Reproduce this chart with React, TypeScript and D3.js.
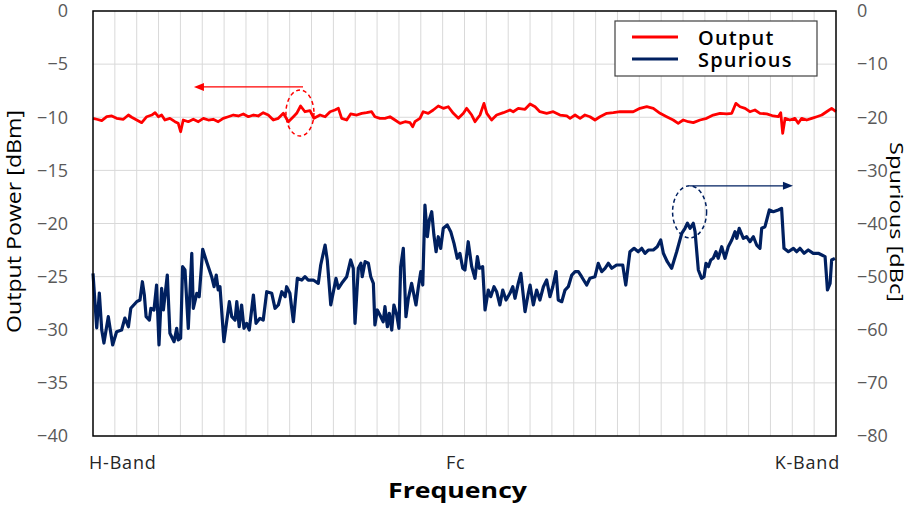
import * as d3 from 'd3';
import React, { useRef, useEffect } from 'react';

// frequency steps across the band (0 = H-Band edge, 340 = K-Band edge)
const outputFreq = [
  0, 1.7, 4.0, 6.3, 8.6, 10.8, 13.9, 16.2, 17.7, 20.0,
  22.3, 24.6, 26.9, 28.4, 29.9, 31.4, 32.9, 35.2, 37.5, 39.0,
  40.1, 41.3, 43.6, 45.9, 48.2, 50.5, 52.8, 55.0, 57.3, 59.6,
  61.9, 64.2, 66.5, 68.8, 71.1, 73.4, 75.6, 77.9, 80.2, 82.5,
  84.8, 87.1, 89.4, 91.7, 93.2, 95.0, 97.0, 99.3, 101.1, 103.9,
  106.2, 108.5, 110.7, 112.3, 113.8, 116.1, 117.9, 120.7, 123.0, 125.2,
  127.5, 129.0, 131.3, 133.6, 135.9, 138.2, 140.5, 142.8, 145.1, 146.3,
  147.3, 149.6, 151.1, 153.4, 155.7, 158.0, 160.3, 162.6, 164.9, 167.2,
  169.5, 171.0, 173.3, 174.8, 177.1, 178.9, 180.2, 182.4, 184.7, 187.8,
  190.8, 192.3, 194.6, 197.7, 200.0, 202.3, 204.5, 207.6, 210.6, 213.7,
  216.8, 218.3, 220.6, 222.9, 225.1, 227.4, 229.7, 232.0, 235.1, 238.1,
  241.2, 244.2, 247.2, 250.3, 253.4, 256.4, 259.5, 262.5, 265.5, 267.8,
  270.1, 272.4, 274.7, 277.8, 280.8, 283.8, 286.9, 290.0, 292.3, 294.2,
  296.1, 298.4, 300.6, 302.9, 305.2, 308.3, 311.3, 313.6, 314.7, 315.6,
  316.7, 318.9, 321.2, 322.7, 324.3, 326.6, 328.9, 331.2, 333.5, 335.7,
  338.0, 340,
];

const outputDbm = [
  -10.10, -10.19, -10.32, -9.95, -9.88, -10.10, -10.19, -9.79, -10.00, -10.26,
  -10.51, -9.95, -9.79, -9.57, -9.95, -9.79, -10.26, -10.10, -10.42, -10.57,
  -11.36, -10.26, -10.42, -10.19, -10.42, -10.10, -10.26, -10.19, -10.42, -10.10,
  -9.95, -9.79, -9.88, -9.69, -9.95, -9.79, -9.88, -9.57, -9.79, -10.26,
  -10.10, -9.63, -10.42, -9.95, -9.63, -8.94, -9.48, -9.38, -10.10, -9.79,
  -9.95, -9.48, -9.32, -9.16, -10.10, -10.26, -9.69, -9.79, -9.63, -9.57,
  -9.48, -9.95, -10.10, -10.10, -9.95, -10.26, -10.57, -10.42, -10.51, -10.89,
  -10.42, -10.10, -9.48, -9.63, -9.32, -8.94, -9.16, -9.01, -9.63, -10.10,
  -9.63, -9.16, -9.79, -10.42, -9.79, -8.69, -9.63, -10.26, -9.79, -9.57,
  -9.32, -9.48, -9.16, -9.25, -8.75, -9.01, -9.48, -9.63, -9.48, -9.79,
  -9.88, -10.10, -9.79, -10.10, -9.79, -9.95, -10.26, -9.95, -9.63, -9.57,
  -9.48, -9.48, -9.48, -9.16, -9.01, -9.16, -9.63, -9.95, -10.26, -10.57,
  -10.26, -10.42, -10.51, -10.26, -10.10, -9.79, -9.63, -9.69, -9.63, -8.69,
  -9.01, -9.16, -9.48, -9.32, -9.63, -9.69, -9.88, -9.95, -9.57, -11.51,
  -10.10, -10.26, -10.10, -10.57, -10.10, -10.26, -10.10, -9.95, -9.79, -9.48,
  -9.16, -9.48,
];

const spuriousFreq = [
  0, 1.7, 2.9, 4.0, 5.0, 7.0, 9.0, 10.8, 13.1, 14.6,
  16.2, 17.3, 20.0, 21.5, 22.6, 23.5, 24.3, 25.8, 26.5, 27.9,
  29.1, 30.2, 31.4, 32.2, 34.0, 35.2, 37.1, 38.3, 39.0, 40.1,
  41.0, 42.1, 43.6, 45.2, 45.9, 47.5, 48.6, 50.2, 52.0, 54.3,
  55.4, 56.4, 57.3, 58.1, 59.9, 62.4, 63.5, 65.0, 65.8, 66.9,
  68.0, 69.1, 70.3, 71.5, 73.4, 74.6, 76.4, 77.9, 79.5, 81.8,
  83.3, 84.8, 86.4, 87.9, 88.6, 90.1, 91.7, 93.5, 95.5, 97.0,
  98.5, 100.8, 103.1, 104.2, 106.2, 107.2, 108.8, 111.2, 112.3, 113.8,
  116.1, 117.9, 119.1, 119.9, 121.4, 122.6, 123.2, 124.5, 126.0, 127.1,
  128.3, 129.0, 130.1, 131.3, 132.8, 133.6, 134.7, 135.6, 136.7, 137.7,
  139.0, 140.0, 140.8, 142.0, 143.2, 144.3, 145.8, 147.8, 148.9, 150.0,
  150.9, 151.9, 153.0, 153.9, 155.0, 156.0, 157.0, 158.0, 159.1, 160.3,
  162.1, 163.7, 165.2, 166.7, 167.9, 169.2, 170.2, 171.7, 173.3, 174.8,
  175.9, 176.8, 178.3, 179.4, 180.9, 182.0, 183.5, 184.7, 186.2, 187.5,
  189.0, 190.8, 192.1, 193.1, 194.6, 195.8, 197.7, 199.2, 200.0, 201.5,
  203.0, 204.5, 206.1, 207.6, 209.1, 210.4, 211.9, 212.9, 214.5, 216.0,
  217.5, 219.1, 220.6, 222.1, 223.6, 225.9, 227.4, 229.7, 231.2, 232.8,
  234.3, 235.8, 237.4, 239.6, 242.4, 243.8, 245.7, 247.6, 249.5, 251.1,
  252.6, 254.1, 256.4, 258.2, 259.8, 261.0, 262.8, 264.8, 267.1, 269.4,
  270.9, 272.0, 273.2, 274.7, 275.5, 277.0, 278.5, 279.6, 280.5, 281.6,
  282.7, 283.8, 285.1, 286.1, 287.7, 289.2, 290.7, 292.3, 293.8, 294.6,
  295.7, 297.6, 299.1, 300.6, 302.2, 303.7, 305.2, 306.0, 307.5, 309.5,
  311.3, 313.6, 315.1, 316.2, 318.2, 320.5, 322.0, 323.5, 325.4, 327.3,
  329.6, 331.9, 333.5, 335.0, 336.1, 337.3, 338.0, 339.5,
];

const spuriousDbc = [
  -49.38, -59.67, -53.08, -60.05, -62.50, -57.54, -62.87, -60.37, -60.05, -57.79,
  -59.43, -55.96, -54.72, -54.40, -50.96, -53.46, -57.54, -58.17, -55.96, -56.28,
  -51.58, -62.87, -52.20, -56.28, -49.70, -60.67, -62.25, -59.73, -61.93, -61.61,
  -48.13, -48.75, -59.73, -45.61, -55.96, -53.14, -53.78, -44.86, -47.19, -50.02,
  -51.90, -49.70, -52.52, -51.90, -62.25, -54.72, -57.54, -58.17, -54.72, -59.43,
  -55.34, -59.73, -58.79, -60.05, -53.46, -58.79, -57.85, -58.17, -52.84, -53.14,
  -55.96, -55.34, -52.84, -53.78, -51.90, -53.14, -58.49, -50.32, -50.64, -50.02,
  -50.64, -50.64, -51.26, -47.81, -44.05, -46.87, -55.34, -50.32, -52.20, -51.26,
  -50.02, -46.87, -48.43, -58.79, -48.43, -47.49, -50.02, -47.19, -47.49, -50.02,
  -51.26, -59.11, -56.28, -57.22, -58.49, -55.66, -59.43, -56.90, -60.05, -55.34,
  -57.22, -59.73, -48.13, -44.67, -57.54, -54.08, -51.26, -55.34, -51.90, -49.07,
  -51.58, -36.52, -42.49, -39.34, -37.78, -42.17, -45.31, -42.49, -44.67, -40.90,
  -40.28, -41.54, -43.73, -46.55, -45.61, -48.43, -48.75, -43.43, -48.13, -50.32,
  -46.25, -48.43, -48.13, -56.28, -52.52, -53.78, -51.90, -52.84, -55.34, -52.52,
  -54.40, -53.14, -51.90, -54.08, -51.26, -49.38, -56.60, -53.14, -51.58, -55.34,
  -52.52, -54.40, -51.90, -50.64, -53.78, -51.90, -49.07, -54.40, -54.72, -52.52,
  -51.90, -49.70, -49.07, -49.07, -50.02, -51.58, -50.32, -50.02, -47.49, -49.07,
  -48.43, -47.49, -48.43, -47.81, -47.81, -51.58, -45.31, -44.67, -45.31, -44.67,
  -45.61, -44.99, -44.99, -44.37, -43.11, -45.61, -47.19, -48.43, -45.31, -41.85,
  -40.90, -39.96, -40.90, -39.96, -41.54, -48.75, -50.32, -50.02, -47.49, -48.13,
  -46.87, -46.55, -45.31, -46.55, -44.37, -46.55, -44.37, -43.11, -41.54, -42.79,
  -40.90, -42.79, -42.49, -43.43, -42.49, -44.05, -44.67, -40.90, -40.60, -37.46,
  -37.78, -37.46, -37.14, -44.67, -45.31, -44.67, -45.31, -44.67, -45.61, -44.99,
  -45.61, -45.61, -45.93, -46.25, -52.52, -51.26, -46.87, -46.55,
];

const leftTicks = [0, -5, -10, -15, -20, -25, -30, -35, -40];
const rightTicks = [0, -10, -20, -30, -40, -50, -60, -70, -80];
const bandLabels = ['H-Band', 'Fc', 'K-Band'];
const bandFreq = [0, 166, 340];
const seriesNames = ['Output', 'Spurious'];
const seriesColors = ['#ff0000', '#002060'];

const W = 918;
const H = 509;
const FONT = "'Open Sans', 'Noto Sans', sans-serif";

const Chart = () => {
  const ref = useRef(null);

  useEffect(() => {
    const svg = d3.select(ref.current);
    svg.selectAll('*').remove();

    const left = 93, right = 836, top = 11, bottom = 436;
    const x = d3.scaleLinear().domain([0, 340]).range([left, right]);
    const yL = d3.scaleLinear().domain([-40, 0]).range([bottom, top]);
    const yR = d3.scaleLinear().domain([-80, 0]).range([bottom, top]);

    svg.append('rect').attr('width', W).attr('height', H).attr('fill', '#fff');

    // grid
    const grid = svg.append('g').attr('stroke', '#d9d9d9').attr('stroke-width', 1);
    grid.selectAll('line.v').data(d3.range(10, 340, 10)).enter().append('line')
      .attr('x1', (d) => x(d)).attr('x2', (d) => x(d))
      .attr('y1', top).attr('y2', bottom);
    grid.selectAll('line.h').data(leftTicks.slice(1, -1)).enter().append('line')
      .attr('x1', left).attr('x2', right)
      .attr('y1', (d) => yL(d)).attr('y2', (d) => yL(d));

    // axes
    const axL = svg.append('g').attr('transform', `translate(${left},0)`)
      .call(d3.axisLeft(yL).tickValues(leftTicks).tickSize(0).tickPadding(25));
    axL.select('.domain').remove();
    axL.selectAll('text').attr('font-family', FONT).attr('font-size', 18).attr('fill', '#595959');

    const axR = svg.append('g').attr('transform', `translate(${right},0)`)
      .call(d3.axisRight(yR).tickValues(rightTicks).tickSize(0).tickPadding(21));
    axR.select('.domain').remove();
    axR.selectAll('text').attr('font-family', FONT).attr('font-size', 18).attr('fill', '#595959');

    svg.append('g').selectAll('text').data(bandLabels).enter().append('text')
      .attr('x', (d, i) => x(bandFreq[i]) + (i === 0 ? -4 : i === 2 ? 4 : 0))
      .attr('y', 469)
      .attr('text-anchor', (d, i) => (i === 0 ? 'start' : i === 2 ? 'end' : 'middle'))
      .attr('font-family', FONT).attr('font-size', 18).attr('fill', '#262626')
      .attr('letter-spacing', 0.8)
      .text((d) => d);

    // axis titles (the original font is wide, so stretch to its length)
    svg.append('text')
      .attr('transform', 'translate(21,221.5) rotate(-90)')
      .attr('text-anchor', 'middle')
      .attr('font-family', FONT).attr('font-size', 19.5).attr('fill', '#000')
      .attr('textLength', 223).attr('lengthAdjust', 'spacingAndGlyphs')
      .text('Output Power [dBm]');
    svg.append('text')
      .attr('transform', 'translate(890,222) rotate(90)')
      .attr('text-anchor', 'middle')
      .attr('font-family', FONT).attr('font-size', 19).attr('fill', '#000')
      .attr('textLength', 160).attr('lengthAdjust', 'spacingAndGlyphs')
      .text('Spurious [dBc]');
    svg.append('text')
      .attr('x', 457.5).attr('y', 498)
      .attr('text-anchor', 'middle')
      .attr('font-family', FONT).attr('font-size', 22).attr('font-weight', 'bold').attr('fill', '#000')
      .attr('textLength', 139).attr('lengthAdjust', 'spacingAndGlyphs')
      .text('Frequency');

    // series
    const outLine = d3.line().x((d) => x(d[0])).y((d) => yL(d[1]));
    const spLine = d3.line().x((d) => x(d[0])).y((d) => yR(d[1]));
    svg.append('path')
      .datum(d3.zip(spuriousFreq, spuriousDbc))
      .attr('fill', 'none').attr('stroke', seriesColors[1]).attr('stroke-width', 3.2)
      .attr('stroke-linejoin', 'round')
      .attr('d', spLine);
    svg.append('path')
      .datum(d3.zip(outputFreq, outputDbm))
      .attr('fill', 'none').attr('stroke', seriesColors[0]).attr('stroke-width', 2.8)
      .attr('stroke-linejoin', 'round')
      .attr('d', outLine);

    // plot border
    svg.append('rect')
      .attr('x', left).attr('y', top).attr('width', right - left).attr('height', bottom - top)
      .attr('fill', 'none').attr('stroke', '#000').attr('stroke-width', 1.5);

    // annotations: ellipse + arrow pointing to each series' axis
    svg.append('ellipse')
      .attr('cx', x(94.7)).attr('cy', yL(-9.6)).attr('rx', 14).attr('ry', 23)
      .attr('fill', 'none').attr('stroke', seriesColors[0]).attr('stroke-width', 1.5)
      .attr('stroke-dasharray', '4,3');
    svg.append('line')
      .attr('x1', x(96.1)).attr('x2', x(47.5)).attr('y1', yL(-7.15)).attr('y2', yL(-7.15))
      .attr('stroke', seriesColors[0]).attr('stroke-width', 1.2);
    svg.append('path')
      .attr('d', `M${x(46.2)},${yL(-7.15)} l10,-4 l0,8 z`)
      .attr('fill', seriesColors[0]);

    svg.append('ellipse')
      .attr('cx', x(273)).attr('cy', yR(-37.8)).attr('rx', 17).attr('ry', 26)
      .attr('fill', 'none').attr('stroke', seriesColors[1]).attr('stroke-width', 1.5)
      .attr('stroke-dasharray', '4,3');
    svg.append('line')
      .attr('x1', x(273.2)).attr('x2', x(318)).attr('y1', yR(-32.9)).attr('y2', yR(-32.9))
      .attr('stroke', seriesColors[1]).attr('stroke-width', 1.2);
    svg.append('path')
      .attr('d', `M${x(320.3)},${yR(-32.9)} l-10,-4 l0,8 z`)
      .attr('fill', seriesColors[1]);

    // legend
    const lg = svg.append('g').attr('transform', 'translate(615,21)');
    lg.append('rect').attr('width', 202).attr('height', 55)
      .attr('fill', '#fff').attr('stroke', '#404040').attr('stroke-width', 1.2);
    const items = lg.selectAll('g.item').data(seriesNames).enter().append('g')
      .attr('transform', (d, i) => `translate(0,${16 + i * 22})`);
    items.append('line').attr('x1', 17).attr('x2', 63).attr('y1', 0).attr('y2', 0)
      .attr('stroke', (d, i) => seriesColors[i]).attr('stroke-width', 3);
    items.append('text').attr('x', 83).attr('y', 8)
      .attr('font-family', FONT).attr('font-size', 20).attr('font-weight', 600).attr('fill', '#000')
      .attr('letter-spacing', 1.2)
      .text((d) => d);
  }, []);

  return <svg ref={ref} width={W} height={H} style={{ position: 'absolute', left: 0, top: 0 }} />;
};

export default function App() {
  return <Chart />;
}
